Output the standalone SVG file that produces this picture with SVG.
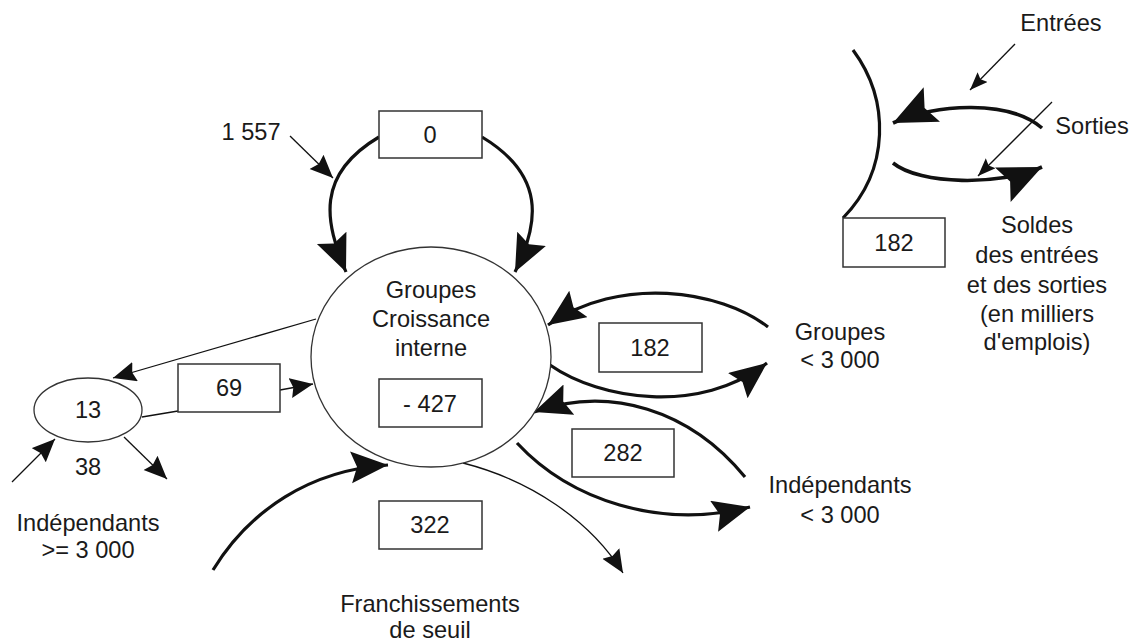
<svg xmlns="http://www.w3.org/2000/svg" width="1145" height="642" viewBox="0 0 1145 642">
<style>
text{font-family:"Liberation Sans",Arial,sans-serif;font-size:23.6px;fill:#1a1a1a;text-anchor:middle}
.box{fill:#fff;stroke:#333;stroke-width:1.5}
.node{fill:#fff;stroke:#333;stroke-width:1.3}
.thick{fill:none;stroke:#111;stroke-width:3.2}
.thin{fill:none;stroke:#111;stroke-width:1.3}
</style>
<defs>
<marker id="big" markerUnits="userSpaceOnUse" markerWidth="40" markerHeight="34" refX="37" refY="16" orient="auto" viewBox="0 0 40 34">
<path d="M0,0 L37,16 L0,32 L6,16 z" fill="#111"/>
</marker>
<marker id="huge" markerUnits="userSpaceOnUse" markerWidth="46" markerHeight="40" refX="43" refY="19" orient="auto" viewBox="0 0 46 40">
<path d="M0,0 L43,19 L0,38 L8,19 z" fill="#111"/>
</marker>
<marker id="small" markerUnits="userSpaceOnUse" markerWidth="26" markerHeight="22" refX="23" refY="10" orient="auto" viewBox="0 0 26 22">
<path d="M0,0 L23,10 L0,20 L3,10 z" fill="#111"/>
</marker>
<marker id="tiny" markerUnits="userSpaceOnUse" markerWidth="20" markerHeight="16" refX="18" refY="7" orient="auto" viewBox="0 0 20 16">
<path d="M0,0 L18,7 L0,14 L3,7 z" fill="#111"/>
</marker>
</defs>

<g id="connectors">
<path class="thin" d="M290,136 L333,178" marker-end="url(#small)"/>
<path class="thick" d="M379,137 C315,175 325,222 346,272" marker-end="url(#big)"/>
<path class="thick" d="M482,137 C545,175 540,222 515,272" marker-end="url(#big)"/>
<path class="thick" d="M768,327 C720,290 620,275 548,325" marker-end="url(#big)"/>
<path class="thick" d="M550,365 C600,400 700,415 767,363" marker-end="url(#big)"/>
<path class="thick" d="M745,477 C690,410 610,385 534,412" marker-end="url(#big)"/>
<path class="thick" d="M517,443 C570,500 660,530 750,507" marker-end="url(#big)"/>
<path class="thin" d="M463,463 C530,480 590,520 623,573" marker-end="url(#small)"/>
<path class="thick" d="M213,570 C250,510 310,470 388,465" marker-end="url(#big)"/>
<path class="thin" d="M316,319 L113,378" marker-end="url(#small)"/>
<path class="thin" d="M142,417 L178,411"/>
<path class="thin" d="M280,390 L313,384" marker-end="url(#small)"/>
<path class="thin" d="M12,482 L55,439" marker-end="url(#small)"/>
<path class="thin" d="M124,437 L167,479" marker-end="url(#small)"/>
</g>

<g id="legend">
<path class="thick" d="M853,50 C890,100 890,170 843,218"/>
<path class="thin" d="M1015,44 L970,90" marker-end="url(#tiny)"/>
<path class="thin" d="M1052,102 L978,176" marker-end="url(#tiny)"/>
<path class="thick" style="stroke-width:3.6" d="M1042,128 C1010,100 935,103 893,123" marker-end="url(#huge)"/>
<path class="thick" style="stroke-width:3.6" d="M893,163 C920,185 1000,186 1042,167" marker-end="url(#huge)"/>
<rect class="box" x="843" y="218" width="102" height="49"/>
<text x="894" y="251">182</text>
<text x="1061" y="31">Entrées</text>
<text x="1092" y="134">Sorties</text>
<text x="1037" y="233">Soldes</text>
<text x="1037" y="263">des entrées</text>
<text x="1037" y="293">et des sorties</text>
<text x="1037" y="322">(en milliers</text>
<text x="1037" y="350">d'emplois)</text>
</g>

<g id="label-1557"><text x="251" y="140">1 557</text></g>

<g id="box-0">
<rect class="box" x="379" y="111" width="103" height="47"/>
<text x="430" y="143">0</text>
</g>

<g id="groupes-croissance-interne">
<ellipse class="node" cx="431" cy="357" rx="120" ry="110"/>
<text x="431" y="298">Groupes</text>
<text x="431" y="327">Croissance</text>
<text x="431" y="356">interne</text>
<rect class="box" x="379" y="379" width="103" height="48"/>
<text x="430" y="412">- 427</text>
</g>

<g id="independants-ge-3000">
<ellipse class="node" cx="88" cy="410" rx="54" ry="32"/>
<text x="88" y="418">13</text>
<text x="88" y="475">38</text>
<text x="88" y="531">Indépendants</text>
<text x="88" y="558">&gt;= 3 000</text>
</g>

<g id="box-69">
<rect class="box" x="178" y="364" width="102" height="48"/>
<text x="229" y="396">69</text>
</g>

<g id="box-182">
<rect class="box" x="599" y="323" width="103" height="49"/>
<text x="650" y="356">182</text>
</g>

<g id="box-282">
<rect class="box" x="572" y="429" width="102" height="48"/>
<text x="623" y="461">282</text>
</g>

<g id="box-322">
<rect class="box" x="379" y="501" width="103" height="48"/>
<text x="430" y="533">322</text>
</g>

<g id="groupes-lt-3000">
<text x="840" y="340">Groupes</text>
<text x="840" y="368">&lt; 3 000</text>
</g>

<g id="independants-lt-3000">
<text x="840" y="493">Indépendants</text>
<text x="840" y="523">&lt; 3 000</text>
</g>

<g id="franchissements">
<text x="430" y="612">Franchissements</text>
<text x="430" y="638">de seuil</text>
</g>
</svg>
